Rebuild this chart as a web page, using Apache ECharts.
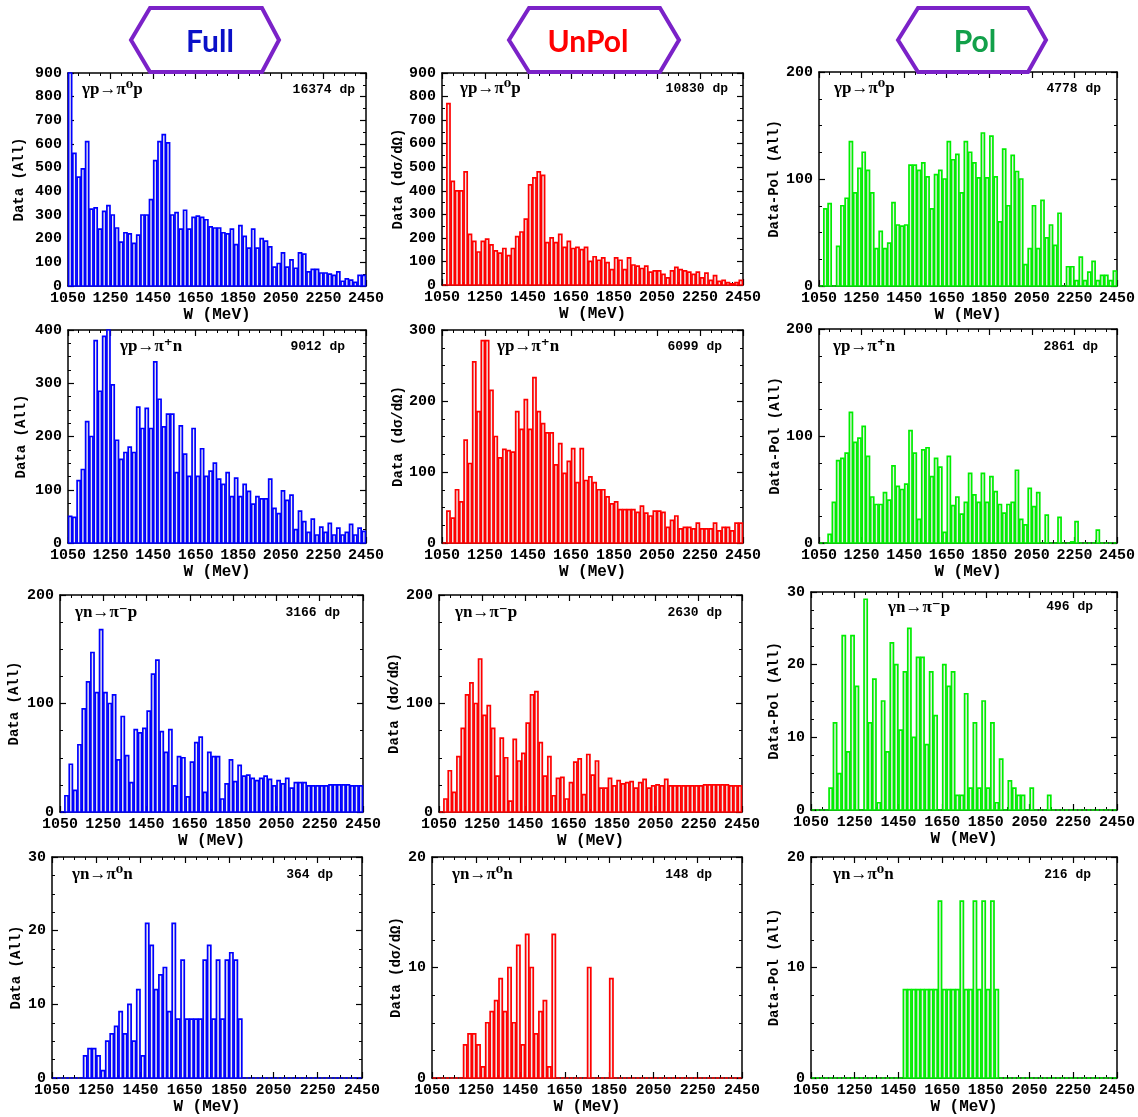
<!DOCTYPE html>
<html><head><meta charset="utf-8">
<script src="https://cdn.jsdelivr.net/npm/echarts@6/dist/echarts.min.js"></script>
<style>html,body{margin:0;padding:0;background:#fff}#c{width:1138px;height:1117px}</style>
</head><body><div id="c"></div>
<script>
// ---------- data ----------
const W_MIN = 1050, W_MAX = 2450, W_STEP = 200, BIN = 20;

const columnTitles = ['Full', 'UnPol', 'Pol'];
const reactionLabels = ['γp→π⁰p', 'γp→π⁺n', 'γn→π⁻p', 'γn→π⁰n'];
const countLabels = ['16374 dp','10830 dp','4778 dp','9012 dp','6099 dp','2861 dp','3166 dp','2630 dp','496 dp','364 dp','148 dp','216 dp'];
const yNames = ['Data (All)', 'Data (dσ/dΩ)', 'Data-Pol (All)'];
const yMax  = [900, 900, 200, 400, 300, 200, 200, 200, 30, 30, 20, 20];
const yStep = [100, 100, 100, 100, 100, 100, 100, 100, 10, 10, 10, 10];

const fullPi0p = [950,560,460,495,610,325,330,240,315,340, 300,245,185,225,220,180,215,300,300,365,
  530,610,640,605,300,310,240,320,240,290, 295,290,280,250,245,245,225,220,240,175,
  255,210,160,240,160,200,190,165,80,95, 140,80,110,75,140,135,60,70,70,55,
  55,50,45,60,20,30,25,15,45,45];
const unpolPi0p = [0,770,440,400,400,480,215,185,140,185, 195,170,145,135,155,125,155,205,225,280,
  425,455,480,465,180,200,180,215,160,185, 155,160,150,160,100,120,105,115,95,65,
  115,105,65,115,85,80,70,80,55,60, 60,45,30,60,75,65,60,55,45,55,
  30,50,20,40,15,20,10,5,10,20];
const polPi0p = [0,72,77,0,37,75,82,135,87,110, 125,108,87,35,51,35,40,78,57,56,
  57,113,113,108,115,102,72,104,108,100, 135,118,123,87,135,125,115,101,143,101,
  140,102,60,128,75,122,107,100,20,35, 75,35,80,45,57,38,68,0,18,18,
  5,27,5,13,23,5,10,10,5,14];
const fullPipn = [50,48,117,138,228,200,380,285,388,400, 297,193,157,170,180,170,255,215,253,215,
  340,270,218,242,242,132,220,167,125,215, 125,177,125,135,150,120,110,132,87,122,
  87,110,97,73,87,83,83,120,65,55, 98,80,90,25,60,40,20,45,15,30,
  20,37,15,28,15,20,35,15,28,22];
const unpolPipn = [0,45,35,75,58,145,112,255,185,285, 285,215,150,120,132,130,128,185,160,202,
  160,233,185,168,155,155,110,140,98,115, 133,85,133,88,93,85,75,75,65,55,
  58,47,47,47,47,43,52,42,38,45, 45,43,22,32,38,20,22,22,20,28,
  20,20,20,28,17,22,22,17,28,28];
const polPipn = [0,0,8,38,77,79,84,122,94,98, 109,81,43,36,36,47,40,72,53,50,
  55,105,84,22,87,89,62,79,71,10, 81,35,43,27,38,65,45,38,65,38,
  62,48,36,28,36,38,68,22,17,51, 34,47,0,26,0,0,24,0,0,1,
  20,0,0,0,0,12,0,0,0,0];
const fullPimp = [0,15,44,20,62,95,120,147,110,168, 110,100,108,48,88,52,27,76,73,77,
  93,127,140,74,55,76,24,51,50,14, 46,64,69,18,55,51,51,12,26,48,
  28,43,33,34,31,29,31,33,30,24, 29,26,31,22,27,27,27,24,24,24,
  24,24,25,25,25,25,25,24,24,24];
const unpolPimp = [0,12,38,18,51,77,108,119,100,141, 89,98,77,33,68,50,10,67,47,54,
  82,108,111,64,33,51,15,31,32,12, 27,46,49,16,53,34,47,22,22,31,
  24,29,26,27,28,22,27,30,22,24, 25,24,30,24,24,24,24,24,24,24,
  24,25,25,25,25,25,25,24,24,24];
const polPimp = [0,0,0,0,3,12,5,24,8,24, 17,0,29,12,18,1,15,8,23,20,
  11,19,25,10,21,21,9,19,13,0, 20,17,19,2,2,16,3,12,3,15,
  3,12,1,7,0,4,3,2,2,0, 3,0,0,0,2,0,0,0,0,0,
  0,0,0,0,0,0,0,0,0,0];
const fullPi0n = [0,0,0,0,0,0,0,3,4,4, 3,1,5,6,7,9,6,10,5,12,
  3,21,18,12,14,15,9,21,8,16, 8,8,8,8,16,18,8,16,8,16,
  17,16,8,0,0,0,0,0,0,0, 0,0,0,0,0,0,0,0,0,0,
  0,0,0,0,0,0,0,0,0,0];
const unpolPi0n = [0,0,0,0,0,0,0,3,4,4, 3,1,5,6,7,9,6,10,5,12,
  3,13,10,4,6,7,1,13,0,0, 0,0,0,0,0,10,0,0,0,0,
  9,0,0,0,0,0,0,0,0,0, 0,0,0,0,0,0,0,0,0,0,
  0,0,0,0,0,0,0,0,0,0];
const polPi0n = [0,0,0,0,0,0,0,0,0,0, 0,0,0,0,0,0,0,0,0,0,
  0,8,8,8,8,8,8,8,8,16, 8,8,8,8,16,8,8,16,8,16,
  8,16,8,0,0,0,0,0,0,0, 0,0,0,0,0,0,0,0,0,0,
  0,0,0,0,0,0,0,0,0,0];

const panelData = [fullPi0p, unpolPi0p, polPi0p, fullPipn, unpolPipn, polPipn,
                   fullPimp, unpolPimp, polPimp, fullPi0n, unpolPi0n, polPi0n];

// ---------- layout / style ----------
const boxes = [[68,73,366,286],[442,73,743,285],[819,72,1120,286],
               [68,330,366,543],[442,330,743,543],[819,329,1120,543],
               [60,595,363,812],[439,595,742,812],[811,592,1121,810],
               [52,857,362,1078],[432,857,742,1078],[811,857,1121,1078]];
const nameCX = [18,397,773, 20,397,775, 13,393,773, 15,395,773];
const reacPos = [[14,17],[18,16],[15,17],[52,17],[55,17],[14,18],[15,18],[16,18],[77,16],[20,18],[20,18],[22,18]];
const countPos = [[11,17],[15,16],[19,17],[21,17],[21,17],[22,18],[23,18],[20,18],[28,15],[29,18],[30,18],[30,18]];
const yMinorSplit = [2,2,4, 4,4,4, 4,4,4, 4,4,4];
const barColors = ['#0000ff', '#ff0000', '#00ee00'];
const titleColors = ['#0a10c8', '#ff0000', '#12a04a'];
const hexes = [[131,150,262,279,210],[509,529,660,679,588],[898,918,1028,1046,975]];
const MONO = '"Liberation Mono","DejaVu Sans Mono",monospace';

function renderBin(params, api) {
  const x0 = api.value(0), y = api.value(1);
  const p0 = api.coord([x0, 0]);
  const p1 = api.coord([x0 + BIN, y]);
  const cs = params.coordSys;
  const top = Math.max(p1[1], cs.y);
  return {
    type: 'rect',
    shape: { x: p0[0] + 0.6, y: top, width: p1[0] - p0[0] - 1.2, height: p0[1] - top },
    style: { fill: '#ececec', stroke: api.visual('color'), lineWidth: 1.7 }
  };
}

const option = { animation: false, backgroundColor: '#fff', grid: [], xAxis: [], yAxis: [], series: [], graphic: [] };
const axisLine = { show: true, onZero: false, lineStyle: { color: '#000', width: 1.5 } };
const tick = { show: true, inside: true, length: 6, lineStyle: { color: '#000', width: 1.2 } };
const plain = v => String(v);

panelData.forEach((vals, p) => {
  const col = p % 3, row = Math.floor(p / 3);
  const [l, t, r, b] = boxes[p];
  option.grid.push({ left: l, top: t, width: r - l, height: b - t });
  const xBase = { gridIndex: p, type: 'value', min: W_MIN, max: W_MAX, interval: W_STEP,
    axisLine, axisTick: tick, splitLine: { show: false },
    minorTick: { show: true, splitNumber: 4, length: 3, lineStyle: { color: '#000', width: 1 } } };
  option.xAxis.push(Object.assign({}, xBase, { position: 'bottom',
    axisLabel: { color: '#000', fontFamily: MONO, fontWeight: 'bold', fontSize: 15, margin: 5,
      formatter: plain, showMinLabel: true, showMaxLabel: true, hideOverlap: false },
    name: 'W (MeV)', nameLocation: 'middle', nameGap: 21,
    nameTextStyle: { color: '#000', fontFamily: MONO, fontWeight: 'bold', fontSize: 16 } }));
  option.xAxis.push(Object.assign({}, xBase, { position: 'top', axisLabel: { show: false } }));
  const yBase = { gridIndex: p, type: 'value', min: 0, max: yMax[p], interval: yStep[p],
    axisLine, axisTick: tick, splitLine: { show: false },
    minorTick: { show: true, splitNumber: yMinorSplit[p], length: 3, lineStyle: { color: '#000', width: 1 } } };
  option.yAxis.push(Object.assign({}, yBase, { position: 'left',
    axisLabel: { color: '#000', fontFamily: MONO, fontWeight: 'bold', fontSize: 15, margin: 6,
      formatter: plain, showMinLabel: true, showMaxLabel: true },
    name: yNames[col], nameLocation: 'middle', nameGap: l - nameCX[p] - 8,
    nameTextStyle: { color: '#000', fontFamily: MONO, fontWeight: 'bold', fontSize: 14 } }));
  option.yAxis.push(Object.assign({}, yBase, { position: 'right', axisLabel: { show: false } }));
  option.series.push({ type: 'custom', xAxisIndex: 2 * p, yAxisIndex: 2 * p,
    data: vals.map((v, i) => [W_MIN + i * BIN, v]), encode: { x: 0, y: 1 },
    itemStyle: { color: barColors[col] }, renderItem: renderBin, clip: false });
  option.graphic.push({ type: 'text', x: l + reacPos[p][0], y: t + reacPos[p][1], z: 50,
    style: { text: reactionLabels[row], fill: '#000', font: 'bold 17px "Liberation Serif","DejaVu Serif",serif', align: 'left', verticalAlign: 'middle' } });
  option.graphic.push({ type: 'text', x: r - countPos[p][0], y: t + countPos[p][1], z: 50,
    style: { text: countLabels[p], fill: '#000', font: 'bold 13px ' + MONO, align: 'right', verticalAlign: 'middle' } });
});

hexes.forEach((h, i) => {
  const [a, b, c, d, cx] = h;
  option.graphic.push({ type: 'polygon', z: 100,
    shape: { points: [[a, 40], [b, 8], [c, 8], [d, 40], [c, 72], [b, 72]] },
    style: { fill: '#fff', stroke: '#7b22c8', lineWidth: 4 } });
  option.graphic.push({ type: 'text', x: cx, y: 42, z: 101,
    style: { text: columnTitles[i], fill: titleColors[i], font: 'bold 30px Lato,"Open Sans",sans-serif', align: 'center', verticalAlign: 'middle' } });
});

const chart = echarts.init(document.getElementById('c'), null, { renderer: 'canvas' });
chart.setOption(option);
</script>
</body></html>
